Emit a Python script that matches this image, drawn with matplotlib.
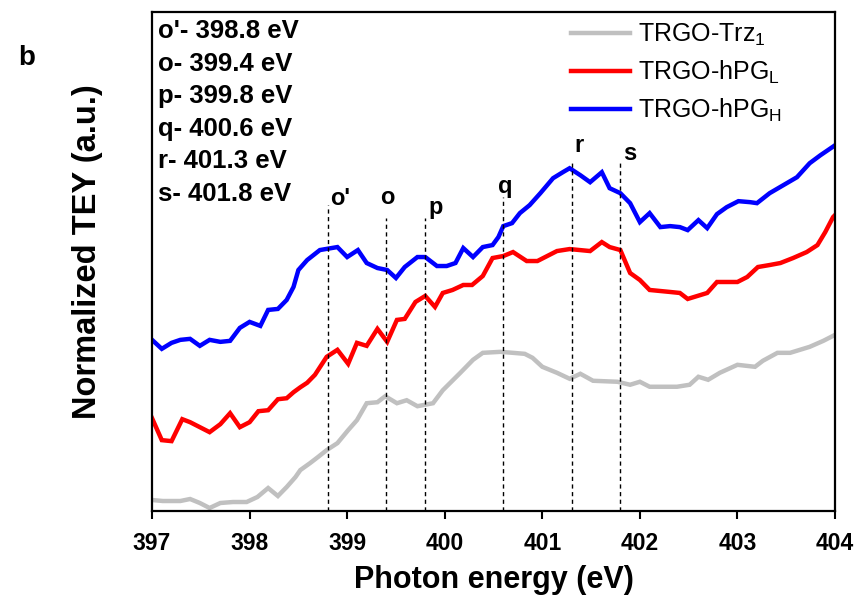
import matplotlib
matplotlib.use("Agg")
import matplotlib.pyplot as plt
import numpy as np

plt.rcParams['font.family'] = ['Liberation Sans', 'DejaVu Sans']
plt.rcParams['mathtext.fontset'] = 'custom'
plt.rcParams['mathtext.rm'] = 'Liberation Sans'
plt.rcParams['mathtext.it'] = 'Liberation Sans:italic'
plt.rcParams['mathtext.bf'] = 'Liberation Sans:bold'

# ---- data (photon energy in eV, normalized TEY in a.u.) ----
blue_x = [397.00, 397.10, 397.20, 397.29, 397.39, 397.49, 397.59, 397.70, 397.80, 397.90,
          398.00, 398.11, 398.19, 398.29, 398.38, 398.45, 398.50, 398.59, 398.72, 398.90,
          399.00, 399.11, 399.20, 399.31, 399.41, 399.50, 399.59, 399.72, 399.80, 399.92,
          400.02, 400.11, 400.19, 400.29, 400.39, 400.49, 400.55, 400.60, 400.69, 400.77,
          400.87, 400.98, 401.11, 401.21, 401.28, 401.39, 401.49, 401.61, 401.69, 401.80,
          401.90, 402.00, 402.10, 402.21, 402.31, 402.41, 402.49, 402.60, 402.69, 402.79,
          402.89, 403.01, 403.13, 403.20, 403.33, 403.47, 403.61, 403.74, 403.85, 403.97, 404.00]
blue_y = [0.343, 0.325, 0.337, 0.343, 0.345, 0.331, 0.343, 0.339, 0.341, 0.367,
          0.379, 0.371, 0.403, 0.405, 0.423, 0.449, 0.483, 0.503, 0.523, 0.529,
          0.509, 0.523, 0.497, 0.487, 0.483, 0.467, 0.489, 0.509, 0.509, 0.491,
          0.491, 0.497, 0.527, 0.509, 0.529, 0.533, 0.549, 0.571, 0.577, 0.597,
          0.613, 0.637, 0.667, 0.679, 0.687, 0.673, 0.659, 0.679, 0.647, 0.637,
          0.617, 0.579, 0.597, 0.569, 0.571, 0.569, 0.563, 0.583, 0.567, 0.595,
          0.609, 0.621, 0.619, 0.617, 0.637, 0.653, 0.669, 0.697, 0.713, 0.729, 0.733]

red_x = [397.00, 397.10, 397.20, 397.31, 397.39, 397.49, 397.59, 397.70, 397.80, 397.90,
         398.00, 398.09, 398.19, 398.29, 398.38, 398.45, 398.52, 398.59, 398.67, 398.79,
         398.90, 399.01, 399.10, 399.20, 399.31, 399.41, 399.51, 399.59, 399.70, 399.80,
         399.90, 399.98, 400.08, 400.19, 400.28, 400.39, 400.49, 400.60, 400.70, 400.84,
         400.95, 401.05, 401.15, 401.28, 401.49, 401.61, 401.69, 401.80, 401.90, 402.00,
         402.10, 402.31, 402.41, 402.49, 402.59, 402.69, 402.79, 403.00, 403.10, 403.21,
         403.33, 403.44, 403.57, 403.71, 403.82, 403.90, 403.98, 404.00]
red_y = [0.186, 0.142, 0.140, 0.184, 0.178, 0.168, 0.158, 0.174, 0.196, 0.168,
         0.178, 0.200, 0.202, 0.224, 0.226, 0.238, 0.248, 0.257, 0.273, 0.309,
         0.323, 0.295, 0.337, 0.331, 0.365, 0.339, 0.383, 0.385, 0.419, 0.431,
         0.409, 0.437, 0.443, 0.453, 0.453, 0.471, 0.507, 0.511, 0.519, 0.501,
         0.501, 0.511, 0.521, 0.525, 0.521, 0.539, 0.529, 0.523, 0.477, 0.463,
         0.443, 0.439, 0.437, 0.425, 0.431, 0.437, 0.459, 0.459, 0.469, 0.489,
         0.493, 0.497, 0.507, 0.519, 0.533, 0.559, 0.589, 0.593]

gray_x = [397.00, 397.11, 397.29, 397.39, 397.49, 397.59, 397.70, 397.83, 397.97, 398.08,
          398.19, 398.29, 398.38, 398.47, 398.52, 398.62, 398.70, 398.79, 398.90, 399.01,
          399.10, 399.20, 399.31, 399.39, 399.51, 399.61, 399.72, 399.88, 399.98, 400.16,
          400.29, 400.39, 400.57, 400.70, 400.82, 400.90, 401.00, 401.15, 401.28, 401.39,
          401.52, 401.77, 401.90, 402.00, 402.10, 402.38, 402.51, 402.60, 402.70, 402.82,
          403.00, 403.18, 403.26, 403.41, 403.54, 403.74, 403.88, 403.98, 404.00]
gray_y = [0.022, 0.020, 0.020, 0.024, 0.016, 0.006, 0.016, 0.018, 0.018, 0.028,
          0.046, 0.030, 0.048, 0.068, 0.082, 0.096, 0.108, 0.122, 0.136, 0.162,
          0.182, 0.216, 0.218, 0.230, 0.216, 0.222, 0.210, 0.216, 0.242, 0.277,
          0.303, 0.317, 0.319, 0.317, 0.315, 0.307, 0.289, 0.277, 0.265, 0.275,
          0.261, 0.259, 0.253, 0.259, 0.249, 0.249, 0.253, 0.269, 0.263, 0.277,
          0.293, 0.289, 0.301, 0.317, 0.317, 0.329, 0.341, 0.351, 0.353]

series_labels = [r'TRGO-Trz$_{\mathregular{1}}$', r'TRGO-hPG$_{\mathregular{L}}$',
                 r'TRGO-hPG$_{\mathregular{H}}$']
series_colors = ['#C0C0C0', '#FF0000', '#0000FF']

peak_names = ["o'", "o", "p", "q", "r", "s"]
peak_energies = [398.8, 399.4, 399.8, 400.6, 401.3, 401.8]
peak_line_tops = [0.613, 0.587, 0.587, 0.629, 0.703, 0.703]
peak_label_x = [398.93, 399.41, 399.91, 400.62, 401.38, 401.90]
peak_label_y = [0.627, 0.629, 0.609, 0.651, 0.733, 0.717]

xticks = [397, 398, 399, 400, 401, 402, 403, 404]

fig = plt.figure(figsize=(8.58, 6.04), dpi=100)
ax = fig.add_axes([0.1772, 0.154, 0.796, 0.826])

for xs, ys, lab, col in zip([gray_x, red_x, blue_x], [gray_y, red_y, blue_y],
                            series_labels, series_colors):
    ax.plot(xs, ys, color=col, lw=3.2, label=lab, solid_joinstyle='miter')

for e, top in zip(peak_energies, peak_line_tops):
    ax.plot([e, e], [0, top], color='black', lw=1.0, ls=(0, (3, 2.5)))

for name, lx, ly in zip(peak_names, peak_label_x, peak_label_y):
    ax.text(lx, ly, name, fontsize=17, fontweight='bold', ha='center', va='center')

for i, (name, e) in enumerate(zip(peak_names, peak_energies)):
    ax.text(0.009, 0.962 - i * 0.0653, f"{name}- {e:.1f} eV", transform=ax.transAxes,
            fontsize=18.5, fontweight='bold', ha='left', va='center')

leg = ax.legend(loc='upper left', bbox_to_anchor=(0.614, 0.980), frameon=False,
                fontsize=18, handlelength=2.36, handletextpad=0.32, labelspacing=0.42,
                borderpad=0, borderaxespad=0)

ax.set_xlim(397, 404)
ax.set_ylim(0, 1)
ax.set_xticks(xticks)
ax.set_xticklabels([str(t) for t in xticks])
ax.set_yticks([])
ax.tick_params(axis='x', direction='out', length=6, width=1.5, labelsize=16.5, pad=9)
for lbl in ax.get_xticklabels():
    lbl.set_fontweight('bold')
for sp in ax.spines.values():
    sp.set_linewidth(1.6)

ax.set_xlabel('Photon energy (eV)', fontsize=22, fontweight='bold')
ax.xaxis.set_label_coords(0.5, -0.138)
ax.xaxis.label.set_va('center')
ax.set_ylabel('Normalized TEY (a.u.)', fontsize=23.5, fontweight='bold')
ax.yaxis.set_label_coords(-0.094, 0.52)
ax.yaxis.label.set_va('center')

fig.text(18 / 858, 1 - 58 / 604, 'b', fontsize=20, fontweight='bold', ha='left', va='center')

fig.savefig('out.png', dpi=100)
